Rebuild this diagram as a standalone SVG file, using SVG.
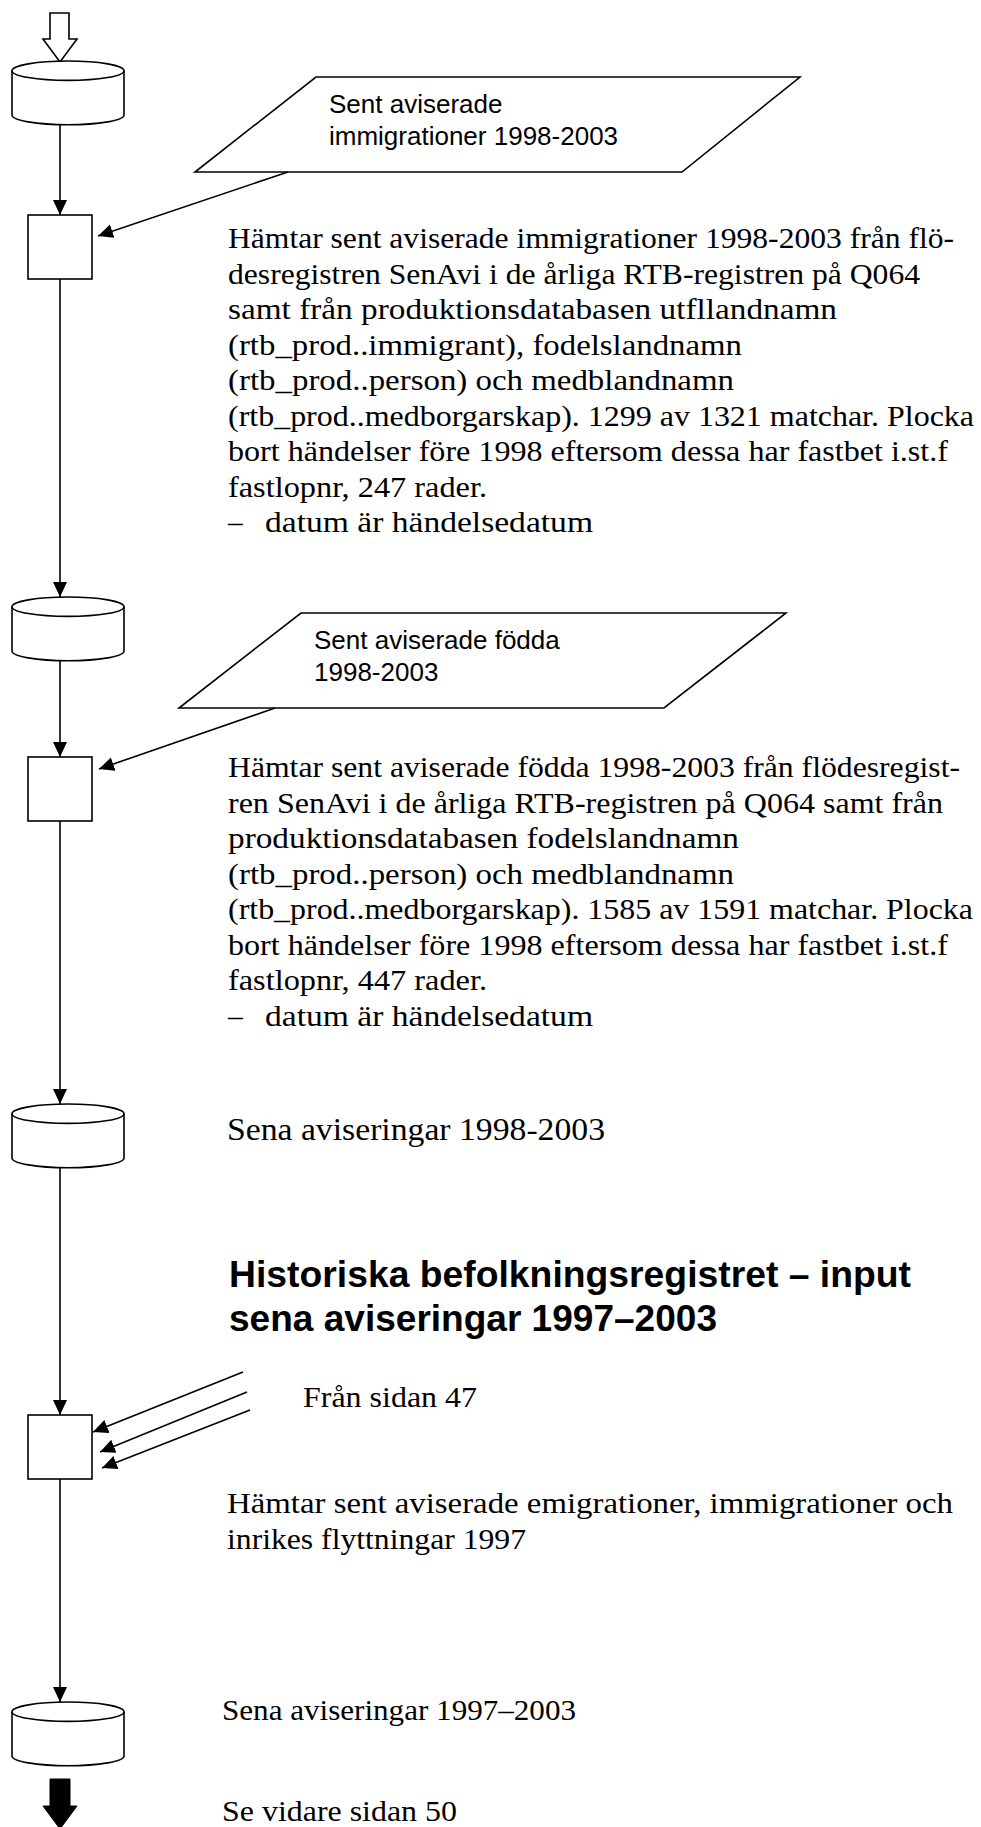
<svg xmlns="http://www.w3.org/2000/svg" width="981" height="1827" viewBox="0 0 981 1827">
<style>
.shape{fill:#fff;stroke:#000;stroke-width:1.6}
.conn{fill:none;stroke:#000;stroke-width:1.6}
.body{font-family:"Liberation Serif","Times New Roman",serif;font-size:29.5px;fill:#000}
.lbl{font-family:"Liberation Sans",Arial,sans-serif;font-size:26px;fill:#000}
.head{font-family:"Liberation Sans",Arial,sans-serif;font-size:37px;font-weight:bold;fill:#000}
</style>
<defs>
<marker id="ah" markerUnits="userSpaceOnUse" markerWidth="16" markerHeight="15" refX="15" refY="7" orient="auto">
<path d="M0,0 L15,7 L0,14 z" fill="#000"/>
</marker>
</defs>
<rect width="981" height="1827" fill="#fff"/>

<g id="start-arrow">
<polygon class="shape" points="50,13 69,13 69,39 77,39 60,62 43,39 50,39"/>
</g>

<g id="cyl1">
<path class="shape" d="M12,70.7 L12,115 A56,9.7 0 0 0 124,115 L124,70.7"/>
<ellipse class="shape" cx="68" cy="70.7" rx="56" ry="9.7"/>
</g>

<g id="para1">
<polygon class="shape" points="316,77 800,77 682,172 195,172"/>
<text class="lbl" x="329" y="113">Sent aviserade</text>
<text class="lbl" x="329" y="145">immigrationer 1998-2003</text>
</g>

<g id="box1"><rect class="shape" x="28" y="215" width="64" height="64"/></g>

<g id="text1" class="body">
<text x="228" y="248" textLength="726" lengthAdjust="spacingAndGlyphs">Hämtar sent aviserade immigrationer 1998-2003 från flö-</text>
<text x="228" y="283.5" textLength="692" lengthAdjust="spacingAndGlyphs">desregistren SenAvi i de årliga RTB-registren på Q064</text>
<text x="228" y="319" textLength="609" lengthAdjust="spacingAndGlyphs">samt från produktionsdatabasen utfllandnamn</text>
<text x="228" y="354.5" textLength="514" lengthAdjust="spacingAndGlyphs">(rtb_prod..immigrant), fodelslandnamn</text>
<text x="228" y="390" textLength="506" lengthAdjust="spacingAndGlyphs">(rtb_prod..person) och medblandnamn</text>
<text x="228" y="425.5" textLength="746" lengthAdjust="spacingAndGlyphs">(rtb_prod..medborgarskap). 1299 av 1321 matchar. Plocka</text>
<text x="228" y="461" textLength="720" lengthAdjust="spacingAndGlyphs">bort händelser före 1998 eftersom dessa har fastbet i.st.f</text>
<text x="228" y="496.5" textLength="259" lengthAdjust="spacingAndGlyphs">fastlopnr, 247 rader.</text>
<text x="228" y="532">–</text>
<text x="265" y="532" textLength="328" lengthAdjust="spacingAndGlyphs">datum är händelsedatum</text>
</g>

<g id="cyl2">
<path class="shape" d="M12,606.7 L12,651 A56,9.7 0 0 0 124,651 L124,606.7"/>
<ellipse class="shape" cx="68" cy="606.7" rx="56" ry="9.7"/>
</g>

<g id="para2">
<polygon class="shape" points="301,613 786,613 664,708 179,708"/>
<text class="lbl" x="314" y="649">Sent aviserade födda</text>
<text class="lbl" x="314" y="681">1998-2003</text>
</g>

<g id="box2"><rect class="shape" x="28" y="757" width="64" height="64"/></g>

<g id="text2" class="body">
<text x="228" y="777" textLength="732" lengthAdjust="spacingAndGlyphs">Hämtar sent aviserade födda 1998-2003 från flödesregist-</text>
<text x="228" y="812.5" textLength="715" lengthAdjust="spacingAndGlyphs">ren SenAvi i de årliga RTB-registren på Q064 samt från</text>
<text x="228" y="848" textLength="511" lengthAdjust="spacingAndGlyphs">produktionsdatabasen fodelslandnamn</text>
<text x="228" y="883.5" textLength="506" lengthAdjust="spacingAndGlyphs">(rtb_prod..person) och medblandnamn</text>
<text x="228" y="919" textLength="745" lengthAdjust="spacingAndGlyphs">(rtb_prod..medborgarskap). 1585 av 1591 matchar. Plocka</text>
<text x="228" y="954.5" textLength="720" lengthAdjust="spacingAndGlyphs">bort händelser före 1998 eftersom dessa har fastbet i.st.f</text>
<text x="228" y="990" textLength="259" lengthAdjust="spacingAndGlyphs">fastlopnr, 447 rader.</text>
<text x="228" y="1025.5">–</text>
<text x="265" y="1025.5" textLength="328" lengthAdjust="spacingAndGlyphs">datum är händelsedatum</text>
</g>

<g id="cyl3">
<path class="shape" d="M12,1113.7 L12,1158 A56,9.7 0 0 0 124,1158 L124,1113.7"/>
<ellipse class="shape" cx="68" cy="1113.7" rx="56" ry="9.7"/>
<text class="body" x="227" y="1140" textLength="378" lengthAdjust="spacingAndGlyphs" style="font-size:31px">Sena aviseringar 1998-2003</text>
</g>

<g id="heading">
<text class="head" x="229" y="1287" textLength="682" lengthAdjust="spacingAndGlyphs">Historiska befolkningsregistret – input</text>
<text class="head" x="229" y="1331" textLength="488" lengthAdjust="spacingAndGlyphs">sena aviseringar 1997–2003</text>
</g>

<g id="from-page">
<text class="body" x="303" y="1407" textLength="174" lengthAdjust="spacingAndGlyphs">Från sidan 47</text>
</g>

<g id="box3"><rect class="shape" x="28" y="1415" width="64" height="64"/></g>

<g id="text3" class="body">
<text x="227" y="1513" textLength="726" lengthAdjust="spacingAndGlyphs">Hämtar sent aviserade emigrationer, immigrationer och</text>
<text x="227" y="1548.5" textLength="299" lengthAdjust="spacingAndGlyphs">inrikes flyttningar 1997</text>
</g>

<g id="cyl4">
<path class="shape" d="M12,1711.7 L12,1756 A56,9.7 0 0 0 124,1756 L124,1711.7"/>
<ellipse class="shape" cx="68" cy="1711.7" rx="56" ry="9.7"/>
<text class="body" x="222" y="1720" textLength="354" lengthAdjust="spacingAndGlyphs">Sena aviseringar 1997–2003</text>
</g>

<g id="end-arrow">
<polygon points="50,1779 70,1779 70,1806 77,1806 60,1829 43,1806 50,1806" fill="#000" stroke="#000" stroke-width="1"/>
<text class="body" x="222" y="1821" textLength="235" lengthAdjust="spacingAndGlyphs">Se vidare sidan 50</text>
</g>

<g id="connectors" class="conn">
<line x1="60" y1="124.5" x2="60" y2="215" marker-end="url(#ah)"/>
<line x1="60" y1="279" x2="60" y2="597" marker-end="url(#ah)"/>
<line x1="60" y1="660.5" x2="60" y2="757" marker-end="url(#ah)"/>
<line x1="60" y1="821" x2="60" y2="1104" marker-end="url(#ah)"/>
<line x1="60" y1="1168" x2="60" y2="1415" marker-end="url(#ah)"/>
<line x1="60" y1="1479" x2="60" y2="1702" marker-end="url(#ah)"/>
<line x1="288" y1="172" x2="98" y2="236" marker-end="url(#ah)"/>
<line x1="275" y1="708" x2="99" y2="769" marker-end="url(#ah)"/>
<line x1="243" y1="1372" x2="93" y2="1432" marker-end="url(#ah)"/>
<line x1="247" y1="1392" x2="100" y2="1452" marker-end="url(#ah)"/>
<line x1="250" y1="1410" x2="102" y2="1468" marker-end="url(#ah)"/>
</g>
</svg>
